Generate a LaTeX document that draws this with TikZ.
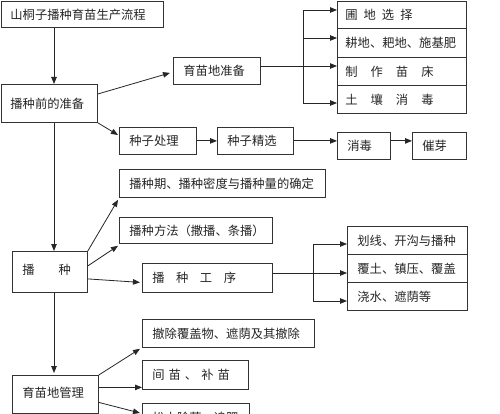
\documentclass[tikz,border=0pt]{standalone}
\usepackage{fontspec}
\setmainfont{Noto Sans CJK SC}
\usetikzlibrary{arrows.meta,calc}
\begin{document}
\begin{tikzpicture}[x=1pt,y=-1pt,
  bx/.style={draw=black!80, line width=0.8pt, anchor=north west, inner xsep=9pt, inner ysep=0pt, align=left, text=black!85, font=\fontsize{12.3}{14}\selectfont},
  arr/.style={draw=black!85, line width=0.8pt, -{Triangle[length=7pt,width=5.5pt]}},
  ln/.style={draw=black!85, line width=0.8pt}]
\useasboundingbox (0,0) rectangle (500,414);
\fill[white] (0,0) rectangle (500,414);
\clip (0,0) rectangle (500,414);

% boxes
\node[bx, text width=144pt, minimum height=26pt] (title) at (1,1) {山桐子播种育苗生产流程};
\node[bx, text width=78pt, minimum height=38pt] (prep) at (1,84) {播种前的准备};
\node[bx, inner xsep=10pt, text width=67pt, minimum height=27pt] (yumiao) at (173,57) {育苗地准备};
\node[bx, inner xsep=8pt, text width=113pt, minimum height=27pt] (R1) at (337,1) {圃\hspace{6pt}地\hspace{6pt}选\hspace{6pt}择};
\node[bx, inner xsep=8pt, text width=113pt, minimum height=29pt] (R2) at (337,28) {耕地、耙地、施基肥};
\node[bx, inner xsep=8pt, text width=113pt, minimum height=28pt] (R3) at (337,57) {制\hspace{13pt}作\hspace{13pt}苗\hspace{13pt}床};
\node[bx, inner xsep=8pt, text width=113pt, minimum height=28pt] (R4) at (337,85) {土\hspace{13pt}壤\hspace{13pt}消\hspace{13pt}毒};
\node[bx, inner xsep=10pt, text width=57pt, minimum height=27pt] (zzcl) at (119,127) {种子处理};
\node[bx, inner xsep=10pt, text width=56pt, minimum height=27pt] (zzjx) at (217,127) {种子精选};
\node[bx, inner xsep=10pt, text width=33pt, minimum height=27pt] (xd) at (337,132) {消毒};
\node[bx, inner xsep=10pt, text width=34pt, minimum height=27pt] (cy) at (412,132) {催芽};
\node[bx, inner xsep=10pt, text width=186pt, minimum height=28pt] (bzq) at (119,169) {播种期、播种密度与播种量的确定};
\node[bx, inner xsep=10pt, text width=133pt, minimum height=26pt] (bzff) at (119,217) {播种方法（撒播、条播）};
\node[bx, inner xsep=10pt, text width=55pt, minimum height=41pt] (bz) at (12,251) {\raisebox{5pt}{播\hspace{24pt}种}};
\node[bx, inner xsep=10pt, text width=110pt, minimum height=29pt] (bzgx) at (142,263) {播\hspace{11.5pt}种\hspace{11.5pt}工\hspace{11.5pt}序};
\node[bx, inner xsep=10pt, text width=100pt, minimum height=28pt] (S1) at (347,226) {划线、开沟与播种};
\node[bx, inner xsep=10pt, text width=100pt, minimum height=28pt] (S2) at (347,254) {覆土、镇压、覆盖};
\node[bx, inner xsep=10pt, text width=100pt, minimum height=28pt] (S3) at (347,282) {浇水、遮荫等};
\node[bx, inner xsep=10pt, text width=66pt, minimum height=38pt] (gl) at (12,375) {\raisebox{5pt}{育苗地管理}};
\node[bx, inner xsep=10pt, text width=152pt, minimum height=28pt] (cc) at (142,319) {撤除覆盖物、遮荫及其撤除};
\node[bx, inner xsep=10pt, text width=86pt, minimum height=29pt] (jm) at (142,360) {间\hspace{4pt}苗\hspace{4pt}、\hspace{4pt}补\hspace{4pt}苗};
\node[bx, inner xsep=10pt, text width=87pt, minimum height=28pt] (st) at (142,403) {松土除草、追肥};

% spine
\coordinate (spine) at (54,0);
\draw[arr] (title.south -| spine) -- (prep.north -| spine);
\draw[arr] (prep.south -| spine) -- (bz.north -| spine);
\draw[arr] (bz.south -| spine) -- ($(gl.north -| spine)+(0,-2)$);

% preparation branch
\draw[arr] ($(prep.north east)+(0,10)$) -- ($(yumiao.west)+(-3,2)$);
\draw[arr] (prep.south east) -- ($(zzcl.north west)+(-1,8)$);
\coordinate (b1) at (303,10);
\coordinate (b2) at (303,38);
\coordinate (b3) at (303,66);
\coordinate (b4) at (303,103);
\draw[ln] (b1) -- (b4);
\draw[arr] (b1) -- (b1 -| R1.west);
\draw[arr] (b2) -- (b2 -| R2.west);
\draw[arr] (yumiao.east |- b3) -- (b3 -| R3.west);
\draw[arr] (b4) -- (b4 -| R4.west);

\draw[arr] (zzcl.east) -- (zzjx.west);
\draw[arr] (zzjx.east) -- (xd.west |- zzjx.east);
\draw[arr] (xd.east |- zzjx.east) -- (cy.west |- zzjx.east);

% sowing branch
\draw[arr] (bz.north east) -- ($(bzq.south west)+(-1,2)$);
\draw[arr] ($(bz.east)+(0,-6)$) -- ($(bzff.south west)+(-1,2)$);
\draw[arr] ($(bz.east)+(0,7)$) -- ($(bzgx.west)+(-2,4.5)$);
\coordinate (c1) at (313,244);
\coordinate (c2) at (313,273);
\coordinate (c3) at (313,301);
\draw[ln] (c1) -- (c3);
\draw[arr] (c1) -- (c1 -| S1.west);
\draw[arr] (bzgx.east |- c2) -- (c2 -| S2.west);
\draw[arr] (c3) -- (c3 -| S3.west);

% management branch
\draw[arr] (gl.north east) -- ($(cc.south west)+(-2,1)$);
\draw[arr] ($(gl.east)+(0,-7)$) -- ($(jm.west |- gl.east)+(0,-7)$);
\draw[arr] ($(gl.east)+(0,8)$) -- ($(st.north west)+(-2,10)$);
\end{tikzpicture}
\end{document}
